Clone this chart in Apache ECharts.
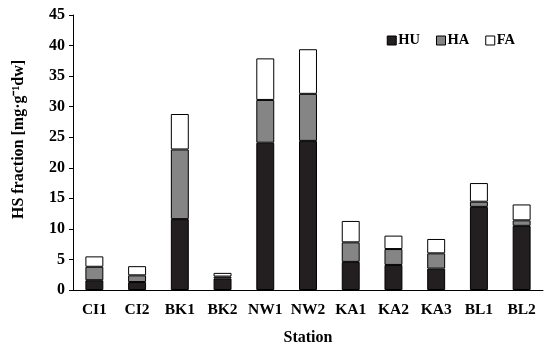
<!DOCTYPE html>
<html><head><meta charset="utf-8">
<script src="https://cdn.jsdelivr.net/npm/echarts@6/dist/echarts.min.js"></script>
<style>html,body{margin:0;padding:0;background:#fff}#c{width:550px;height:351px}</style>
</head><body><div id="c"></div>
<script>
const categories = ['CI1','CI2','BK1','BK2','NW1','NW2','KA1','KA2','KA3','BL1','BL2'];
const HU = [1.6,1.3,11.6,1.9,24.1,24.4,4.6,4.1,3.5,13.6,10.5];
const HA = [2.2,1.1,11.4,0.3,7.0,7.7,3.2,2.6,2.5,0.85,0.9];
const FA = [1.7,1.5,5.8,0.6,6.8,7.3,3.5,2.2,2.35,3.05,2.6];
const yTicks = [0,5,10,15,20,25,30,35,40,45];

const font = 'Liberation Serif';
const chart = echarts.init(document.getElementById('c'));
function s(name, data, color){
  return {name, type:'bar', stack:'t', data, barWidth:'42%',
    itemStyle:{color, borderColor:'#000', borderWidth:1}};
}
chart.setOption({
  animation:false,
  textStyle:{fontFamily:font},
  legend:{top:28,right:30,itemWidth:9,itemHeight:9,itemGap:16,icon:'rect',
    itemStyle:{borderColor:'#000',borderWidth:1},
    textStyle:{fontFamily:font,fontWeight:'bold',fontSize:14.5,color:'#000',padding:[0,0,0,-3]},
    data:['HU','HA','FA']},
  grid:{left:73,right:7,top:15,bottom:58},
  xAxis:{type:'category',data:categories,
    axisLine:{lineStyle:{color:'#000',width:1}},axisTick:{show:false},
    axisLabel:{interval:0,hideOverlap:false,fontFamily:font,fontWeight:'bold',fontSize:15.5,color:'#000',margin:12},
    name:'Station',nameLocation:'middle',nameGap:40,
    nameTextStyle:{fontFamily:font,fontWeight:'bold',fontSize:16,color:'#000'}},
  yAxis:{type:'value',min:yTicks[0],max:yTicks[yTicks.length-1],interval:5,
    axisLine:{show:true,lineStyle:{color:'#000',width:1}},
    axisTick:{show:true,length:4,lineStyle:{color:'#000'}},
    splitLine:{show:false},
    axisLabel:{fontFamily:font,fontWeight:'bold',fontSize:16,color:'#000',margin:8},
    name:'HS fraction [mg·g⁻¹dw]',nameLocation:'middle',nameGap:46,
    nameTextStyle:{fontFamily:font,fontWeight:'bold',fontSize:16,color:'#000',padding:[0,0,0,26]}},
  series:[s('HU',HU,'#231f20'),s('HA',HA,'#858585'),s('FA',FA,'#ffffff')]
});
</script></body></html>
